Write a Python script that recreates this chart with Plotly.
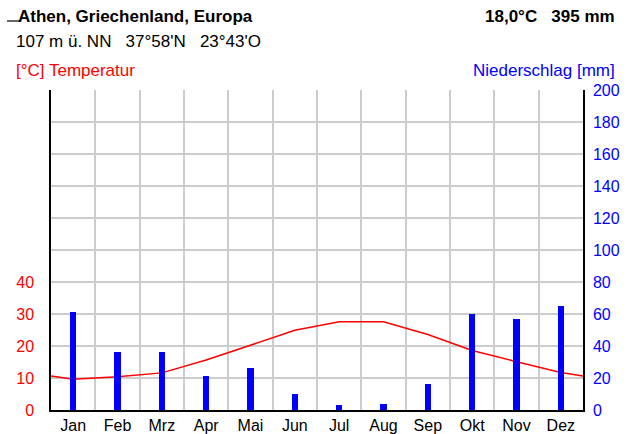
import plotly.graph_objects as go

# Climate data for Athens
months = ["Jan", "Feb", "Mrz", "Apr", "Mai", "Jun", "Jul", "Aug", "Sep", "Okt", "Nov", "Dez"]
temperature = [9.6, 10.4, 11.6, 15.6, 20.3, 24.9, 27.6, 27.6, 23.6, 18.6, 15.1, 11.7]
precipitation = [61, 36, 36, 21, 26, 10, 3, 4, 16, 60, 57, 65]

temp_ticks = [0, 10, 20, 30, 40]
precip_ticks = list(range(0, 201, 20))

W, H = 627, 434
L, R, T, B = 51, 44, 90, 24
PW, PH = W - L - R, H - T - B
FONT = "Liberation Sans, Arial, sans-serif"
FS = 17
TFS = 16
RED = "#ff0000"
BLUE = "#0000ff"
GRID = "#cccccc"


def px(x):
    return (x - L) / PW


def py(y):
    return (H - B - y) / PH


centers = [i + 0.5 for i in range(len(months))]
# temperature curve wraps around the year at the plot edges
edge = (temperature[0] + temperature[-1]) / 2
line_x = [0] + centers + [len(months)]
line_y = [edge] + temperature + [edge]

grid_vals = list(range(0, 100, 10))

fig = go.Figure()
# invisible trace that activates the month-boundary grid axis
fig.add_trace(go.Scatter(x=[0], y=[0], xaxis="x2", mode="markers",
                         marker=dict(opacity=0), showlegend=False, hoverinfo="skip"))
fig.add_trace(go.Bar(x=centers, y=precipitation, yaxis="y2", width=0.14,
                     marker=dict(color=BLUE, line=dict(width=0)), showlegend=False))
fig.add_trace(go.Scatter(x=line_x, y=line_y, mode="lines", yaxis="y",
                         line=dict(color=RED, width=1.5), showlegend=False))

fig.update_layout(
    width=W, height=H,
    margin=dict(l=L, r=R, t=T, b=B, autoexpand=False),
    paper_bgcolor="white", plot_bgcolor="white",
    font=dict(family=FONT, size=FS, color="black"),
    bargap=0,
    xaxis=dict(range=[0, 12], tickvals=centers, ticktext=months, showgrid=False,
               zeroline=False, showline=True, linecolor="black", linewidth=1.5,
               ticks="", automargin=False,
               tickfont=dict(size=TFS, color="black"), fixedrange=True),
    xaxis2=dict(range=[0, 12], overlaying="x", tick0=0, dtick=1, showgrid=True,
                gridcolor=GRID, gridwidth=1.5, showticklabels=False, zeroline=False,
                automargin=False),
    yaxis=dict(range=[0, 100], tickvals=grid_vals,
               ticktext=[str(v) if v in temp_ticks else "" for v in grid_vals],
               showgrid=True, gridcolor=GRID, gridwidth=1.5, zeroline=False,
               showline=True, linecolor="black", linewidth=1.5, automargin=False,
               ticks="outside", ticklen=12, tickcolor="rgba(0,0,0,0)",
               tickfont=dict(size=TFS, color=RED)),
    yaxis2=dict(range=[0, 200], tickvals=precip_ticks, overlaying="y", side="right",
                showgrid=False, zeroline=False, showline=True, linecolor="black",
                linewidth=1.5, ticks="outside", ticklen=5, tickcolor="rgba(0,0,0,0)",
                automargin=False, tickfont=dict(size=TFS, color=BLUE)),
)

annots = [
    dict(text="<b>Athen, Griechenland, Europa</b>", x=px(16), y=py(16), xanchor="left",
         font=dict(size=FS, color="black")),
    dict(text="<b>18,0°C   395 mm</b>", x=px(617), y=py(16), xanchor="right",
         font=dict(size=FS, color="black")),
    dict(text="107 m ü. NN   37°58'N   23°43'O", x=px(14), y=py(41), xanchor="left",
         font=dict(size=FS, color="black")),
    dict(text="[°C] Temperatur", x=px(14), y=py(70), xanchor="left",
         font=dict(size=FS, color=RED)),
    dict(text="Niederschlag [mm]", x=px(617), y=py(70), xanchor="right",
         font=dict(size=FS, color=BLUE)),
]
for a in annots:
    fig.add_annotation(xref="paper", yref="paper", yanchor="middle", showarrow=False, **a)

# short stroke before the title
fig.add_shape(type="line", xref="paper", yref="paper",
              x0=px(7), x1=px(20), y0=py(21), y1=py(21),
              line=dict(color="black", width=1.2))

fig.write_html("out.html")
